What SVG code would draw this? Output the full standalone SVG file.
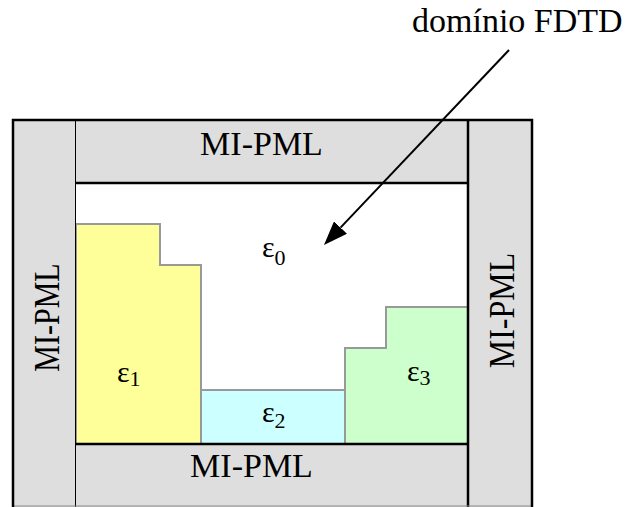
<svg xmlns="http://www.w3.org/2000/svg" width="627" height="507" viewBox="0 0 627 507">
  <style>
    .lbl { font-family: "Liberation Serif", "Times New Roman", serif; fill: #000; }
    .pml { fill: #dedede; }
    .mat { stroke: #999; stroke-width: 2; }
    .edge { stroke: #000; fill: none; }
  </style>
  <defs>
    <marker id="head" markerUnits="userSpaceOnUse" viewBox="0 0 24 18" refX="0" refY="9" markerWidth="24" markerHeight="18" orient="auto">
      <path d="M0,0 L24,9 L0,18 z" fill="#000"/>
    </marker>
  </defs>
  <rect width="627" height="507" fill="#fff"/>

  <!-- absorbing layers -->
  <g id="pml-left">
    <rect class="pml" x="13" y="120" width="63" height="387"/>
    <text class="lbl" font-size="30" text-anchor="middle" transform="translate(59,317.5) scale(1.18,1) rotate(-90)">MI-PML</text>
  </g>
  <g id="pml-right">
    <rect class="pml" x="468" y="120" width="64" height="387"/>
    <text class="lbl" font-size="32" text-anchor="middle" transform="translate(514,310.5) scale(1.1,1) rotate(-90)">MI-PML</text>
  </g>
  <g id="pml-top">
    <rect class="pml" x="76" y="120" width="392" height="63"/>
    <text class="lbl" x="261.5" y="155" font-size="34" text-anchor="middle">MI-PML</text>
  </g>
  <g id="pml-bottom">
    <rect class="pml" x="76" y="444" width="392" height="63"/>
    <text class="lbl" x="251.5" y="477" font-size="34" text-anchor="middle">MI-PML</text>
  </g>

  <!-- FDTD domain -->
  <g id="eps0">
    <rect x="76" y="183" width="392" height="261" fill="#fff"/>
    <text class="lbl" x="262" y="257" font-size="30">ε<tspan font-size="22" dy="8">0</tspan></text>
  </g>
  <g id="eps1">
    <polygon class="mat" fill="#ffff99" points="76,224 160,224 160,265 201,265 201,444 76,444"/>
    <text class="lbl" x="117" y="382" font-size="30">ε<tspan font-size="22" dy="4">1</tspan></text>
  </g>
  <g id="eps2">
    <rect class="mat" fill="#ccffff" x="201" y="390" width="144" height="54"/>
    <text class="lbl" x="262" y="422" font-size="30">ε<tspan font-size="22" dy="6">2</tspan></text>
  </g>
  <g id="eps3">
    <polygon class="mat" fill="#ccffcc" points="345,444 345,348 386,348 386,307 468,307 468,444"/>
    <text class="lbl" x="407" y="381" font-size="30">ε<tspan font-size="22" dy="4">3</tspan></text>
  </g>

  <!-- borders -->
  <g id="borders">
    <line class="edge" x1="75.5" y1="120" x2="75.5" y2="507" stroke-width="1"/>
    <line class="edge" x1="76" y1="183" x2="468" y2="183" stroke-width="2.5"/>
    <line class="edge" x1="76" y1="444" x2="468" y2="444" stroke-width="2.5"/>
    <line class="edge" x1="468" y1="120" x2="468" y2="507" stroke-width="2.5"/>
    <line x1="13" y1="506" x2="532" y2="506" stroke="#888" stroke-width="1"/>
    <path class="edge" d="M13,507 V120 H532 V507" stroke-width="2.5"/>
  </g>

  <g id="label-domain">
    <text class="lbl" x="412" y="32" font-size="34">domínio FDTD</text>
  </g>

  <g id="connectors">
    <line x1="509" y1="50" x2="340.5" y2="227.6" stroke="#000" stroke-width="2" marker-end="url(#head)"/>
  </g>
</svg>
